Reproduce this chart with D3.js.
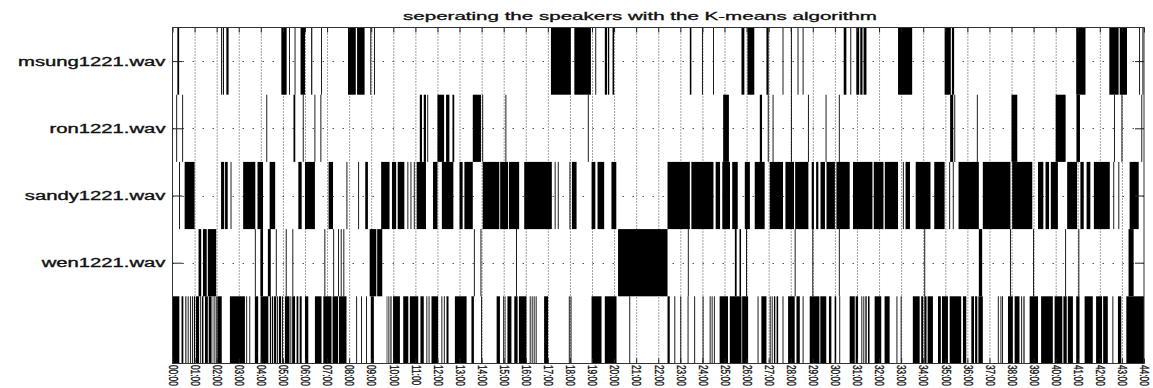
<!DOCTYPE html>
<html>
<head>
<meta charset="utf-8">
<script src="https://cdn.jsdelivr.net/npm/d3@7"></script>
<style>
  html, body { margin: 0; padding: 0; background: #fff; }
  #vis { width: 1153px; height: 388px; overflow: hidden; }
</style>
</head>
<body>
<div id="vis"></div>
<script>
// rows, top to bottom (the last row has no label)
const rowNames = ["msung1221.wav", "ron1221.wav", "sandy1221.wav", "wen1221.wav", ""];

// x tick labels, one per minute
const xTickValues = [0, 1, 2, 3, 4, 5, 6, 7, 8, 9, 10, 11, 12, 13, 14, 15, 16, 17, 18, 19, 20, 21, 22,
    23, 24, 25, 26, 27, 28, 29, 30, 31, 32, 33, 34, 35, 36, 37, 38, 39, 40, 41, 42, 43, 44];
const xTickLabels = ["00:00", "01:00", "02:00", "03:00", "04:00", "05:00", "06:00", "07:00", "08:00",
    "09:00", "10:00", "11:00", "12:00", "13:00", "14:00", "15:00", "16:00", "17:00", "18:00", "19:00",
    "20:00", "21:00", "22:00", "23:00", "24:00", "25:00", "26:00", "27:00", "28:00", "29:00", "30:00",
    "31:00", "32:00", "33:00", "34:00", "35:00", "36:00", "37:00", "38:00", "39:00", "40:00", "41:00",
    "42:00", "43:00", "44:00"];

// segments [start, end] in minutes, per row
const msungSegs = [[0.22, 0.3], [2.2, 2.24], [2.28, 2.33], [2.44, 2.54], [4.93, 5.17], [5.28, 5.32],
    [5.53, 5.57], [5.8, 6.0], [6.28, 6.33], [6.73, 6.77], [7.95, 8.3], [8.36, 8.7], [8.96, 9.0],
    [9.13, 9.17], [17.14, 18.04], [18.2, 18.95], [19.15, 19.19], [19.58, 19.68], [19.72, 19.78],
    [19.93, 20.0], [23.43, 23.5], [23.98, 24.02], [24.48, 24.52], [25.77, 25.9], [26.04, 26.35],
    [26.9, 27.0], [27.63, 27.67], [28.01, 28.05], [28.31, 28.35], [28.54, 28.58], [30.4, 30.52],
    [30.7, 30.74], [30.97, 31.1], [31.15, 31.25], [31.3, 31.43], [32.86, 33.5], [34.97, 35.25],
    [35.3, 35.4], [40.93, 41.35], [42.43, 42.85], [42.9, 43.23], [43.78, 43.82], [43.93, 43.97]];

const ronSegs = [[0.17, 0.21], [0.44, 0.48], [4.25, 4.29], [5.48, 5.56], [5.9, 5.94], [6.43, 6.47],
    [6.7, 6.74], [11.2, 11.3], [11.38, 11.48], [11.54, 11.58], [12.0, 12.3], [12.39, 12.54],
    [12.68, 12.76], [13.6, 13.97], [14.03, 14.07], [15.08, 15.12], [18.81, 18.85], [24.94, 25.2],
    [26.6, 26.7], [26.96, 27.0], [27.18, 27.22], [28.01, 28.05], [28.78, 28.82], [29.58, 29.62],
    [30.18, 30.22], [35.22, 35.36], [35.41, 35.45], [36.43, 36.47], [38.0, 38.26], [40.0, 40.45],
    [40.94, 41.1], [42.64, 42.68], [42.98, 43.02], [43.88, 43.92]];

const sandySegs = [[0.3, 0.34], [0.55, 1.0], [2.2, 2.34], [2.38, 2.5], [2.63, 2.67], [3.2, 3.75],
    [3.85, 4.1], [4.4, 4.65], [5.7, 5.85], [6.0, 6.45], [7.07, 7.27], [7.88, 7.92], [8.41, 8.45],
    [8.73, 8.85], [9.45, 9.83], [9.94, 10.13], [10.2, 10.5], [10.64, 10.68], [10.78, 10.82],
    [10.93, 10.97], [11.06, 11.48], [11.8, 12.0], [12.2, 12.72], [13.0, 13.14], [13.22, 13.6],
    [14.05, 14.8], [14.84, 15.2], [15.24, 15.7], [15.93, 17.18], [17.31, 17.35], [17.45, 17.49],
    [17.98, 18.02], [18.09, 18.3], [18.98, 19.15], [19.25, 19.55], [19.88, 20.1], [22.42, 23.43],
    [23.5, 24.5], [24.6, 24.8], [24.9, 25.25], [25.35, 25.6], [25.92, 26.15], [26.37, 26.82],
    [27.05, 27.65], [27.76, 28.15], [28.2, 28.8], [28.95, 29.05], [29.15, 29.25], [29.35, 29.55],
    [29.62, 30.0], [30.07, 30.67], [30.82, 31.7], [31.76, 32.2], [32.26, 32.86], [33.08, 33.12],
    [33.2, 33.4], [33.66, 34.33], [34.5, 34.97], [35.18, 35.22], [35.34, 35.38], [35.6, 36.52],
    [36.7, 37.95], [38.03, 38.94], [39.2, 39.44], [39.54, 39.7], [39.78, 40.1], [40.52, 40.97],
    [41.12, 41.27], [41.4, 41.57], [41.73, 42.45], [42.61, 42.65], [42.84, 42.88], [43.35, 43.76]];

const wenSegs = [[1.18, 1.3], [1.38, 1.55], [1.6, 1.98], [3.73, 3.77], [3.98, 4.1], [4.32, 4.45],
    [4.68, 4.72], [5.13, 5.17], [5.43, 5.47], [6.88, 6.92], [7.28, 7.32], [7.5, 7.54], [7.62, 7.66],
    [7.74, 7.78], [8.93, 9.23], [9.27, 9.5], [13.65, 13.69], [13.95, 13.99], [15.56, 15.6],
    [20.18, 22.42], [23.34, 23.38], [25.47, 25.55], [25.68, 25.75], [25.98, 26.02], [28.18, 28.22],
    [28.98, 29.02], [30.18, 30.22], [34.05, 34.09], [36.52, 36.67], [37.93, 37.97], [38.98, 39.02],
    [40.43, 40.47], [41.03, 41.07], [43.3, 43.53]];

const otherSegs = [[0.0, 0.31], [0.41, 0.49], [0.57, 0.6], [0.64, 0.67], [0.72, 0.75], [0.8, 0.84],
    [0.89, 0.93], [0.97, 1.02], [1.06, 1.2], [1.24, 1.28], [1.33, 1.4], [1.47, 1.6], [1.64, 1.77],
    [1.82, 1.85], [1.9, 1.93], [1.96, 2.0], [2.03, 2.23], [2.6, 3.28], [3.34, 3.38], [3.48, 3.52],
    [3.73, 3.88], [3.99, 4.34], [4.41, 4.46], [4.5, 4.56], [4.6, 4.7], [4.74, 4.78], [4.82, 4.92],
    [4.96, 5.0], [5.09, 5.3], [5.34, 5.38], [5.42, 5.55], [5.62, 5.7], [5.76, 5.85], [6.0, 6.15],
    [6.45, 6.75], [6.83, 7.2], [7.25, 7.5], [7.54, 7.88], [8.32, 8.36], [8.54, 8.58], [8.77, 8.81],
    [8.98, 9.12], [9.7, 9.73], [9.78, 9.82], [9.87, 9.92], [9.99, 10.3], [10.45, 10.68],
    [10.75, 11.13], [11.23, 11.38], [11.5, 11.54], [11.6, 11.64], [11.73, 12.03], [12.18, 12.22],
    [12.29, 12.33], [12.41, 12.5], [12.79, 13.32], [13.54, 13.65], [13.98, 14.02], [14.68, 14.83],
    [14.98, 15.02], [15.05, 15.08], [15.17, 15.35], [15.48, 15.63], [15.69, 16.03], [16.18, 16.22],
    [16.27, 16.31], [16.36, 16.4], [16.45, 16.49], [16.83, 17.01], [17.95, 17.99], [18.03, 18.07],
    [18.98, 19.43], [19.58, 20.11], [20.69, 20.73], [22.42, 22.52], [22.73, 22.77], [23.0, 23.04],
    [23.33, 23.37], [23.63, 23.67], [24.01, 24.05], [24.33, 24.37], [24.42, 24.46], [24.52, 24.56],
    [24.78, 25.16], [25.24, 25.77], [25.8, 26.07], [26.5, 26.54], [26.67, 26.9], [27.05, 27.09],
    [27.14, 27.18], [27.24, 27.3], [27.36, 27.43], [27.63, 27.67], [27.88, 28.18], [28.26, 28.41],
    [28.54, 28.58], [28.86, 29.3], [29.34, 29.61], [29.73, 29.84], [29.99, 30.06], [30.2, 30.24],
    [30.67, 30.9], [30.94, 31.05], [31.2, 31.24], [31.29, 31.33], [31.38, 31.44], [31.5, 31.57],
    [31.8, 32.1], [32.25, 32.48], [32.79, 32.83], [32.98, 33.02], [33.53, 33.84], [33.91, 34.0],
    [34.05, 34.15], [34.2, 34.44], [34.67, 34.8], [34.85, 35.12], [35.2, 35.72], [35.8, 35.95],
    [36.18, 36.3], [36.35, 36.45], [36.5, 36.7], [37.38, 37.42], [37.5, 37.54], [37.57, 37.61],
    [37.84, 38.06], [38.14, 38.36], [38.44, 38.48], [38.54, 38.59], [38.82, 39.2], [39.34, 39.87],
    [39.95, 40.3], [40.35, 40.5], [40.55, 40.78], [40.93, 41.08], [41.31, 41.68], [41.83, 42.1],
    [42.15, 42.36], [42.57, 42.61], [42.82, 42.97], [43.2, 44.0]];

const rowSegs = [msungSegs, ronSegs, sandySegs, wenSegs, otherSegs];

const font = `"Liberation Sans", Arial, Helvetica, sans-serif`;

var svg = d3.select("#vis").append("svg")
    .attr("width", 1153)
    .attr("height", 388);

var x = d3.scaleLinear().domain([0, 44]).range([172.5, 1144]);
var y = d3.scaleBand().domain(rowNames).range([27.5, 363.5]);

// dotted grid
svg.append("g").selectAll("line")
    .data(xTickValues.slice(1, -1))
    .join("line")
    .attr("x1", d => x(d) + 0.5).attr("x2", d => x(d) + 0.5)
    .attr("y1", y.range()[0]).attr("y2", y.range()[1])
    .attr("stroke", "#444")
    .attr("stroke-width", 1)
    .attr("stroke-dasharray", "1,2");

svg.append("g").selectAll("line")
    .data(rowNames.slice(0, 4))
    .join("line")
    .attr("x1", x.range()[0]).attr("x2", x.range()[1])
    .attr("y1", d => Math.round(y(d) + y.bandwidth() / 2) + 0.5)
    .attr("y2", d => Math.round(y(d) + y.bandwidth() / 2) + 0.5)
    .attr("stroke", "#555")
    .attr("stroke-width", 1)
    .attr("stroke-dasharray", "1.5,8.5");

// segments
rowNames.forEach((name, i) => {
    svg.append("g").selectAll("rect")
        .data(rowSegs[i])
        .join("rect")
        .attr("x", d => x(d[0]))
        .attr("width", d => Math.max(x(d[1]) - x(d[0]), 0.6))
        .attr("y", y(name))
        .attr("height", y.bandwidth())
        .attr("fill", "#000");
});

// axes
var yc = d => y(d) + y.bandwidth() / 2;
var yTicks = d3.scaleOrdinal().domain(rowNames).range(rowNames.map(yc));

var xBottom = svg.append("g")
    .attr("transform", "translate(0," + y.range()[1] + ")")
    .call(d3.axisBottom(x).tickValues(xTickValues)
        .tickFormat((d, i) => xTickLabels[i])
        .tickSizeInner(-5).tickSizeOuter(0));

// vertical labels, short enough to end above the bottom edge
xBottom.selectAll("text")
    .attr("x", 0).attr("y", 0)
    .attr("dy", "0.35em")
    .attr("text-anchor", "start")
    .attr("transform", "translate(0,1.5) scale(1.45,1) rotate(90)")
    .style("font-family", font)
    .style("font-size", "8.3px")
    .attr("fill", "#111")
    .attr("stroke", "#111")
    .attr("stroke-width", 0.25);

svg.append("g")
    .attr("transform", "translate(0," + y.range()[0] + ")")
    .call(d3.axisTop(x).tickValues(xTickValues).tickFormat("")
        .tickSizeInner(-5).tickSizeOuter(0));

var yLeft = svg.append("g")
    .attr("transform", "translate(" + x.range()[0] + ",0)")
    .call(d3.axisLeft(yTicks).tickValues(rowNames.slice(0, 4))
        .tickSizeInner(-10).tickSizeOuter(0).tickPadding(7));

yLeft.selectAll("text")
    .style("font-family", font)
    .style("font-size", "12.5px")
    .attr("fill", "#111")
    .attr("stroke", "#111")
    .attr("stroke-width", 0.35)
    .each(function() {
        var w = this.getComputedTextLength();
        d3.select(this).attr("textLength", w * 1.62).attr("lengthAdjust", "spacingAndGlyphs");
    });

svg.append("g")
    .attr("transform", "translate(" + x.range()[1] + ",0)")
    .call(d3.axisRight(yTicks).tickValues(rowNames.slice(0, 4)).tickFormat("")
        .tickSizeInner(-9).tickSizeOuter(0));

svg.selectAll(".domain").remove();
svg.selectAll(".tick line").attr("stroke", "#222");

// frame
svg.append("rect")
    .attr("x", x.range()[0])
    .attr("y", y.range()[0])
    .attr("width", x.range()[1] - x.range()[0])
    .attr("height", y.range()[1] - y.range()[0])
    .attr("fill", "none")
    .attr("stroke", "#333")
    .attr("stroke-width", 1);

svg.append("text")
    .attr("x", 640)
    .attr("y", 20)
    .attr("text-anchor", "middle")
    .attr("textLength", 474)
    .attr("lengthAdjust", "spacingAndGlyphs")
    .style("font-family", font)
    .style("font-size", "10.5px")
    .attr("fill", "#111")
    .attr("stroke", "#111")
    .attr("stroke-width", 0.3)
    .text("seperating the speakers with the K-means algorithm");
</script>
</body>
</html>
